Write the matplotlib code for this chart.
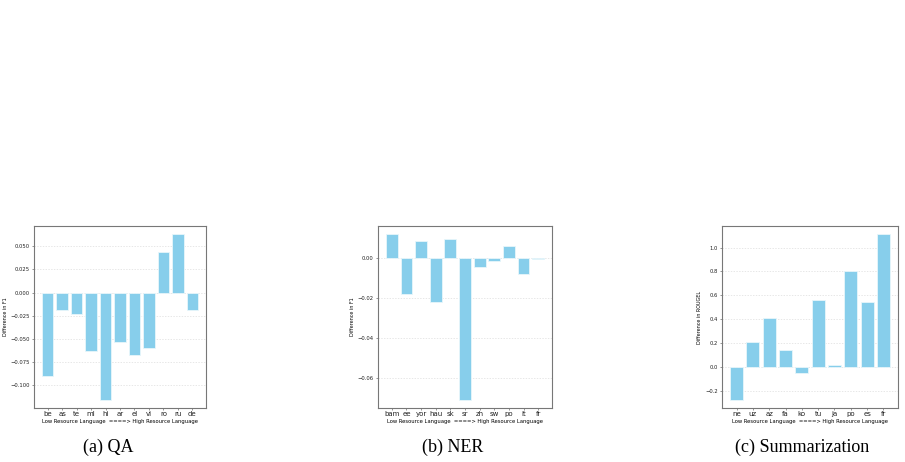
import matplotlib
matplotlib.use("Agg")
import matplotlib.pyplot as plt

# QA
qa_langs = ["be", "as", "te", "ml", "hi", "ar", "el", "vi", "ro", "ru", "de"]
qa_diff = [-0.090, -0.019, -0.023, -0.063, -0.1155, -0.053, -0.067, -0.060, 0.044, 0.063, -0.019]

# NER
ner_langs = ["bam", "ee", "yor", "hau", "sk", "sr", "zh", "sw", "po", "it", "fr"]
ner_diff = [0.012, -0.018, 0.0087, -0.022, 0.0095, -0.0707, -0.0042, -0.0013, 0.006, -0.008, -0.0002]

# Summarization
sum_langs = ["ne", "uz", "az", "fa", "ko", "tu", "ja", "po", "es", "fr"]
sum_diff = [-0.277, 0.207, 0.412, 0.14, -0.05, 0.557, 0.014, 0.804, 0.541, 1.112]

panels = [
    (qa_langs, qa_diff, "Difference in F1", "(a) QA"),
    (ner_langs, ner_diff, "Difference in F1", "(b) NER"),
    (sum_langs, sum_diff, "Difference in ROUGEL", "(c) Summarization"),
]

W, H = 905, 462
boxes = [(34, 226, 206, 408), (378, 226, 552, 408), (722, 226, 898, 408)]
captions_x = [108, 453, 802]

fig = plt.figure(figsize=(W / 100, H / 100), dpi=100)

for (langs, vals, ylab, cap), (x0, y0, x1, y1), cx in zip(panels, boxes, captions_x):
    ax = fig.add_axes([x0 / W, 1 - y1 / H, (x1 - x0) / W, (y1 - y0) / H])
    ax.bar(langs, vals, color="skyblue", edgecolor="#e8f6fb", linewidth=0.6, width=0.8)
    ax.yaxis.grid(True, linestyle=(0, (2, 2)), color="#dddddd", linewidth=0.5)
    ax.set_axisbelow(True)
    ax.set_ylabel(ylab, fontsize=3.5, labelpad=2)
    ax.set_xlabel("Low Resource Language  ====> High Resource Language", fontsize=3.8, labelpad=1)
    ax.tick_params(axis="y", labelsize=3.8, length=1.5, width=0.4, pad=1.5, colors="#444444")
    ax.tick_params(axis="x", labelsize=5, length=1.5, width=0.4, pad=1, colors="#444444")
    for lbl in ax.get_xticklabels() + ax.get_yticklabels():
        lbl.set_color("#222222")
    for sp in ax.spines.values():
        sp.set_color("#777777")
        sp.set_linewidth(0.8)
    fig.text(cx / W, 1 - 447 / H, cap, ha="center", va="center",
             fontsize=13, family="Liberation Serif")

fig.savefig("out.png", dpi=100)
